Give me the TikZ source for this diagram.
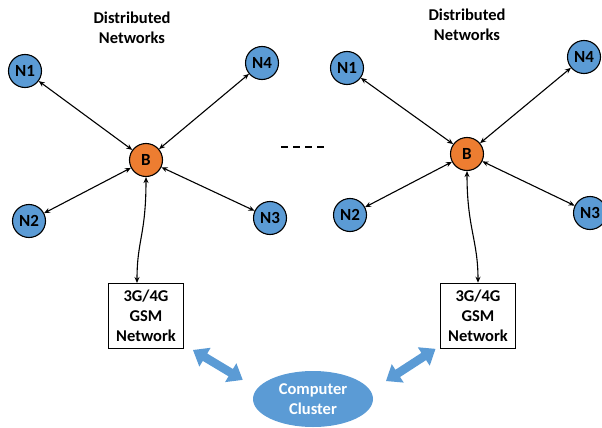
\documentclass[tikz,border=0pt]{standalone}
\usepackage{fontspec}
\setmainfont{Carlito}
\usetikzlibrary{arrows.meta,shapes.geometric,calc}
\definecolor{nodeblue}{HTML}{5B9BD5}
\definecolor{hubor}{HTML}{ED7D31}
\tikzset{
  peer/.style={circle,draw=black,line width=1.1pt,fill=nodeblue,minimum size=33pt,inner sep=0pt,font=\bfseries\fontsize{17}{19}\selectfont},
  hub/.style={peer,fill=hubor},
  link/.style={{Stealth[length=6pt,width=5pt]}-{Stealth[length=6pt,width=5pt]},line width=1.1pt},
  gsm/.style={draw=black,line width=1.5pt,fill=white,minimum width=75pt,minimum height=65pt,align=center,inner sep=2pt,font=\bfseries\fontsize{16.5}{20}\selectfont},
  title/.style={align=center,font=\bfseries\fontsize{16.5}{20}\selectfont},
  fatarrow/.style={fill=nodeblue,draw=none}
}
% wide two-headed arrow of length #1 along the local x axis
\newcommand{\widearrow}[1]{%
  \fill[fatarrow] (0,0) -- (14,-11) -- (14,-4.3) -- (#1-14,-4.3) -- (#1-14,-11) -- (#1,0)
    -- (#1-14,11) -- (#1-14,4.3) -- (14,4.3) -- (14,11) -- cycle;}
\begin{document}
\begin{tikzpicture}[x=1pt,y=-1pt]
\useasboundingbox (0,0) rectangle (602,428);

% left cluster
\node[title] (tl) at (132,28) {Distributed\\Networks};
\node[hub]  (bl)  at (146,160) {B};
\node[peer] (l1)  at (25,71)  {N1};
\node[peer] (l4)  at (262,63) {N4};
\node[peer] (l2)  at (29,221) {N2};
\node[peer] (l3)  at (270,218) {N3};
\node[gsm]  (gl)  at (146,316) {3G/4G\\GSM\\Network};
\foreach \n in {l1,l2,l3,l4} \draw[link] (bl) -- (\n);
\coordinate (glt) at (137,283);
\draw[link] (bl.south) .. controls (146,235) and (137,240) .. (glt);

% right cluster
\node[title] (tr) at (467,25) {Distributed\\Networks};
\node[hub]  (br)  at (467,154) {B};
\node[peer] (r1)  at (347,68)  {N1};
\node[peer] (r4)  at (584,57)  {N4};
\node[peer] (r2)  at (350,215) {N2};
\node[peer] (r3)  at (590,213) {N3};
\node[gsm]  (gr)  at (478,316) {3G/4G\\GSM\\Network};
\foreach \n in {r1,r2,r3,r4} \draw[link] (br) -- (\n);
\draw[link] (br.south) .. controls (467,228) and (478,240) .. (gr.north);

% separator between the two clusters
\coordinate (d1) at (281,147);
\coordinate (d2) at (326,147);
\draw[line width=2pt,dash pattern=on 7pt off 5pt] (d1) -- (d2);

% central cluster
\node[ellipse,fill=nodeblue,minimum width=120pt,minimum height=56pt,inner sep=0pt,text=white,align=center,font=\bfseries\fontsize{16.5}{20}\selectfont] (cc) at (313,399) {Computer\\Cluster};

% wide links to the cluster
\coordinate (al) at (193,350);
\coordinate (ar) at (386,381);
\begin{scope}[shift={(al)},rotate=-31]\widearrow{58}\end{scope}
\begin{scope}[shift={(ar)},rotate=33]\widearrow{59}\end{scope}
\end{tikzpicture}
\end{document}
